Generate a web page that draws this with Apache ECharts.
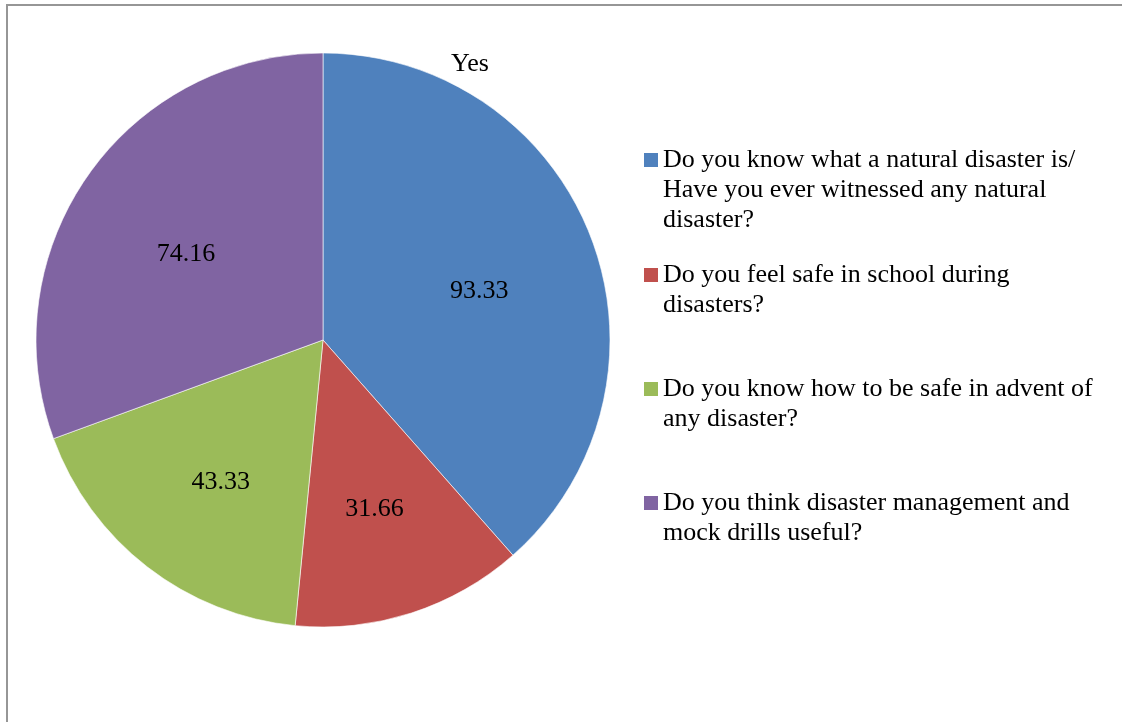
<!DOCTYPE html>
<html>
<head>
<meta charset="utf-8">
<script src="https://cdn.jsdelivr.net/npm/echarts@6/dist/echarts.min.js"></script>
<style>
html,body{margin:0;padding:0;background:#fff;}
#chart{width:1122px;height:722px;}
</style>
</head>
<body>
<div id="chart"></div>
<script>
const categories = [
  'Do you know what a natural disaster is/ Have you ever witnessed any natural disaster?',
  'Do you feel safe in school during disasters?',
  'Do you know how to be safe in advent of any disaster?',
  'Do you think disaster management and mock drills useful?'
];
const legendLabels = [
  ['Do you know what a natural disaster is/', 'Have you ever witnessed any natural', 'disaster?'],
  ['Do you feel safe in school during', 'disasters?'],
  ['Do you know how to be safe in advent of', 'any disaster?'],
  ['Do you think disaster management and', 'mock drills useful?']
];
const values = [93.33, 31.66, 43.33, 74.16];
const colors = ['#4F81BD', '#C0504D', '#9BBB59', '#8064A2'];
const titleText = 'Yes';

const FONT = '"Liberation Serif", "Times New Roman", serif';
const FS = 26;
const LH = 30;
const legendIconY = [160, 275, 389, 503];

const chart = echarts.init(document.getElementById('chart'));
const legends = categories.map((c, i) => {
  const lines = legendLabels[i];
  const n = lines.length;
  const padded = new Array(n - 1).fill('').concat(lines).join('\n');
  return {
    left: 644,
    top: legendIconY[i] - (2 * n - 1) * LH / 2,
    padding: 0,
    orient: 'vertical',
    data: [c],
    icon: 'rect',
    itemWidth: 14,
    itemHeight: 14,
    itemGap: 0,
    itemStyle: { borderWidth: 0 },
    selectedMode: false,
    formatter: () => padded,
    textStyle: {
      fontFamily: FONT,
      fontSize: FS,
      color: '#000',
      lineHeight: LH
    }
  };
});

chart.setOption({
  animation: false,
  color: colors,
  graphic: [{
    type: 'rect',
    shape: { x: 7, y: 5, width: 1130, height: 740 },
    style: { fill: 'none', stroke: '#969696', lineWidth: 2 },
    silent: true
  }],
  title: {
    text: titleText,
    left: 465,
    top: 46,
    textAlign: 'center',
    textStyle: { fontFamily: FONT, fontSize: FS, fontWeight: 'normal', color: '#000' }
  },
  legend: legends,
  series: [{
    type: 'pie',
    center: [323, 340],
    radius: [0, 287],
    startAngle: 90,
    clockwise: true,
    silent: true,
    itemStyle: { borderColor: '#ffffff', borderWidth: 0.6 },
    label: {
      show: true,
      position: 'inside',
      formatter: p => p.value.toFixed(2),
      fontFamily: FONT,
      fontSize: FS,
      color: '#000'
    },
    labelLayout: function (params) {
      const r = params.labelRect;
      const cx = r.x + r.width / 2, cy = r.y + r.height / 2;
      return { dx: (cx - 323) * 0.14, dy: (cy - 340) * 0.14 + 10 };
    },
    data: categories.map((c, i) => ({ name: c, value: values[i] }))
  }]
});
</script>
</body>
</html>
